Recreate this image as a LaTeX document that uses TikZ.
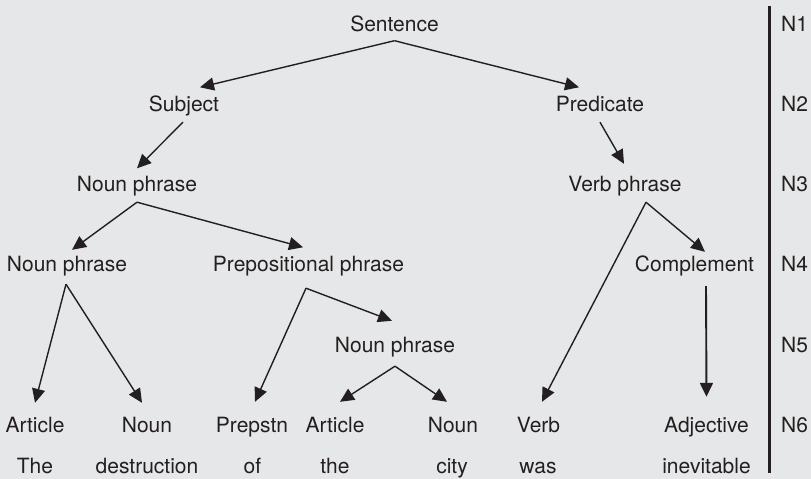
\documentclass[tikz,border=0pt]{standalone}
\usepackage{fontspec}
\setmainfont{TeX Gyre Heros}
\usetikzlibrary{arrows.meta}
\definecolor{paper}{HTML}{E6E7E8}
\definecolor{ink}{HTML}{231F20}
\begin{document}
\begin{tikzpicture}[x=1pt,y=-1pt,
  every node/.style={text=ink},
  word/.style={anchor=base, inner xsep=0pt, inner ysep=9pt,
    text height=15pt, text depth=0pt,
    font=\fontsize{21}{25}\selectfont},
  level/.style={word, anchor=base west},
  arr/.style={draw=ink, line width=1.4pt,
    -{Triangle[length=14pt,width=13pt]}},
  rule/.style={draw=ink, line width=3.3pt}]
  % canvas
  \fill[paper] (0,0) rectangle (811,479);
  \useasboundingbox (0,0) rectangle (811,479);

  % tree levels
  \node[word] (s)    at (394.5,31.5) {Sentence};
  \node[word] (subj) at (184,111.5) {Subject};
  \node[word] (pred) at (600,111.5) {Predicate};
  \node[word] (np1)  at (137,191.5) {Noun phrase};
  \node[word] (vp)   at (625,191.5) {Verb phrase};
  \node[word] (np2)  at (67,271.5) {Noun phrase};
  \node[word] (pp)   at (308.5,271.5) {Prepositional phrase};
  \node[word] (comp) at (694.5,271.5) {Complement};
  \node[word] (np3)  at (395,352) {Noun phrase};
  \node[word] (art1) at (35,432) {Article};
  \node[word] (noun1) at (147,432) {Noun};
  \node[word] (prep) at (252,432) {Prepstn};
  \node[word] (art2) at (335,432) {Article};
  \node[word] (noun2) at (453,432) {Noun};
  \node[word] (verb) at (538.5,432) {Verb};
  \node[word] (adj)  at (706.5,432) {Adjective};

  % the sentence itself
  \node[word] (w1) at (35,473) {The};
  \node[word] (w2) at (147,473) {destruction};
  \node[word] (w3) at (252.5,473) {of};
  \node[word] (w4) at (335,473) {the};
  \node[word] (w5) at (452,473) {city};
  \node[word] (w6) at (538,473) {was};
  \node[word] (w7) at (706.5,473) {inevitable};

  % level markers
  \draw[rule] (769.5,6) -- (769.5,473);
  \node[level] (n1) at (781,31.5) {N1};
  \node[level] (n2) at (781,111.5) {N2};
  \node[level] (n3) at (781,191.5) {N3};
  \node[level] (n4) at (781,271.5) {N4};
  \node[level] (n5) at (781,352) {N5};
  \node[level] (n6) at (781,432) {N6};

  % branches
  \draw[arr] (s.south) -- ([shift={(16,0)}]subj.north);
  \draw[arr] (s.south) -- ([shift={(-21,0)}]pred.north);
  \draw[arr] ([shift={(-1,1.5)}]subj.south) -- ([shift={(0,1)}]np1.north);
  \draw[arr] ([shift={(0,1.5)}]pred.south) -- ([shift={(-1,-3.5)}]vp.north);
  \draw[arr] ([shift={(0,1.5)}]np1.south) -- ([shift={(5,2.5)}]np2.north);
  \draw[arr] ([shift={(0,1.5)}]np1.south) -- ([shift={(-5.5,0)}]pp.north);
  \draw[arr] ([shift={(21,1.5)}]vp.south) -- ([shift={(10.5,4.5)}]comp.north);
  \draw[arr] ([shift={(21,1.5)}]vp.south) -- ([shift={(3.5,-6)}]verb.north);
  \draw[arr, line width=1.9pt] ([shift={(11.5,5.5)}]comp.south) -- ([shift={(0,-11)}]adj.north);
  \draw[arr] ([shift={(-1,3.5)}]np2.south) -- ([shift={(0,-5)}]art1.north);
  \draw[arr] ([shift={(-1,3.5)}]np2.south) -- ([shift={(-5,-5)}]noun1.north);
  \draw[arr] ([shift={(-2.5,7.5)}]pp.south) -- ([shift={(3,-6)}]prep.north);
  \draw[arr] ([shift={(-2.5,7.5)}]pp.south) -- ([shift={(-3,-7)}]np3.north);
  \draw[arr] ([shift={(0,5)}]np3.south) -- ([shift={(5,-6)}]art2.north);
  \draw[arr] ([shift={(0,5)}]np3.south) -- ([shift={(-6,-6)}]noun2.north);
\end{tikzpicture}
\end{document}
